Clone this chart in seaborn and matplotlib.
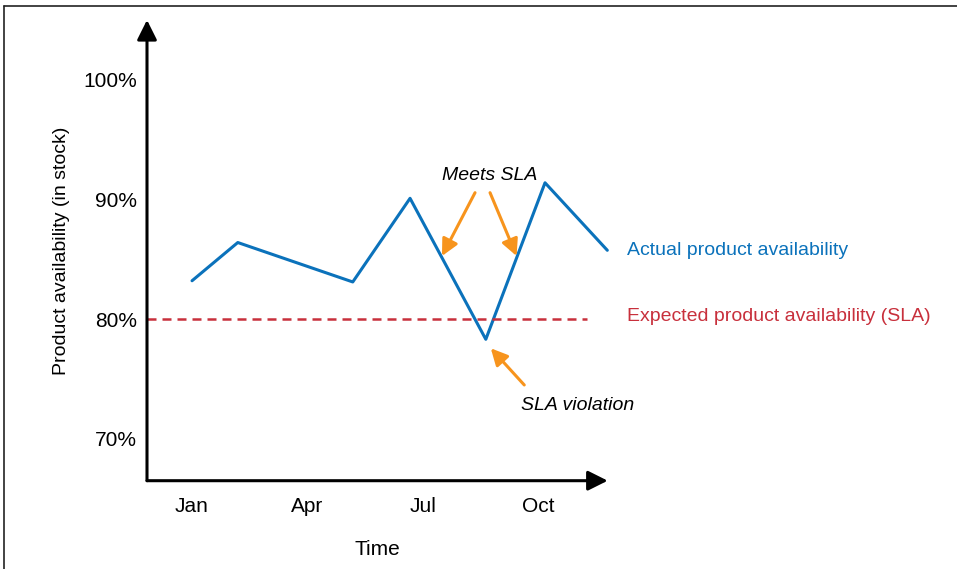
import seaborn as sns
import matplotlib.pyplot as plt
import pandas as pd
from matplotlib.lines import Line2D

# data (x in months, Jan = 0)
month_pos = [0, 1.19, 4.18, 5.67, 7.64, 9.18, 10.8]
availability = [83.2, 86.4, 83.1, 90.1, 78.3, 91.4, 85.75]
sla_level = 80
sla_x = [-1.17, 10.28]
tick_months = [0, 3, 6, 9]
tick_labels = ['Jan', 'Apr', 'Jul', 'Oct']
y_ticks = [70, 80, 90, 100]

blue = '#0b72bb'
red = '#c8303c'
orange = '#f7941d'

sns.set_style('white', {'text.color': 'black', 'axes.labelcolor': 'black',
                        'xtick.color': 'black', 'ytick.color': 'black'})
plt.rcParams['font.family'] = ['Liberation Sans', 'DejaVu Sans']

df = pd.DataFrame({'month': month_pos, 'avail': availability})
sla_df = pd.DataFrame({'month': sla_x, 'avail': [sla_level] * len(sla_x)})

fig = plt.figure(figsize=(9.57, 5.69), dpi=100)
ax = fig.add_axes([147 / 957, (569 - 480.7) / 569, (607.7 - 147) / 957, (480.7 - 20) / 569])

sns.lineplot(data=df, x='month', y='avail', color=blue, lw=2.2, ax=ax, clip_on=False)
sns.lineplot(data=sla_df, x='month', y='avail', color=red, lw=1.8, ax=ax,
             dashes=False, linestyle=(0, (3.6, 2.4)))

ax.set_xlim(-1.171, 10.81)
ax.set_ylim(66.47, 105.02)

for s in ax.spines.values():
    s.set_visible(False)

# axis arrows
axis_arrow = dict(arrowstyle='-|>,head_length=1.2,head_width=0.6', color='black', lw=2.2,
                  shrinkA=0, shrinkB=0)
ax.annotate('', xy=(0, 1), xytext=(0, 0), xycoords='axes fraction', arrowprops=axis_arrow)
ax.annotate('', xy=(1, 0), xytext=(0, 0), xycoords='axes fraction', arrowprops=axis_arrow)

ax.set_xticks(tick_months)
ax.set_xticklabels(tick_labels)
ax.set_yticks(y_ticks)
ax.set_yticklabels([f'{v}%' for v in y_ticks])
ax.tick_params(axis='both', length=0, labelsize=15)
ax.tick_params(axis='x', pad=12)
ax.tick_params(axis='y', pad=7)
ax.set_xlabel('Time', fontsize=15, labelpad=17)
ax.set_ylabel('Product availability (in stock)', fontsize=14, labelpad=10)

# side labels
ax.text(11.32, 85.77, 'Actual product availability', color=blue, fontsize=14, va='center')
ax.text(11.32, 80.2, 'Expected product availability (SLA)', color=red, fontsize=14, va='center')

# annotations
ax.text(7.73, 92.05, 'Meets SLA', fontsize=14, style='italic', ha='center', va='center')
ax.text(10.02, 72.8, 'SLA violation', fontsize=14, style='italic', ha='center', va='center')
arrow_kw = dict(arrowstyle='-|>,head_length=1.0,head_width=0.5', color=orange, lw=2.2,
                shrinkA=0, shrinkB=0)
ax.annotate('', xy=(6.50, 85.27), xytext=(7.36, 90.57), arrowprops=arrow_kw)
ax.annotate('', xy=(8.44, 85.27), xytext=(7.75, 90.57), arrowprops=arrow_kw)
ax.annotate('', xy=(7.77, 77.55), xytext=(8.64, 74.48), arrowprops=arrow_kw)

# frame around the figure (top and left edges visible)
fig.add_artist(Line2D([4 / 957, 1], [1 - 6 / 569, 1 - 6 / 569], color='#222222', lw=1.2))
fig.add_artist(Line2D([4 / 957, 4 / 957], [0, 1 - 6 / 569], color='#222222', lw=1.2))

fig.savefig('out.png', dpi=100)
